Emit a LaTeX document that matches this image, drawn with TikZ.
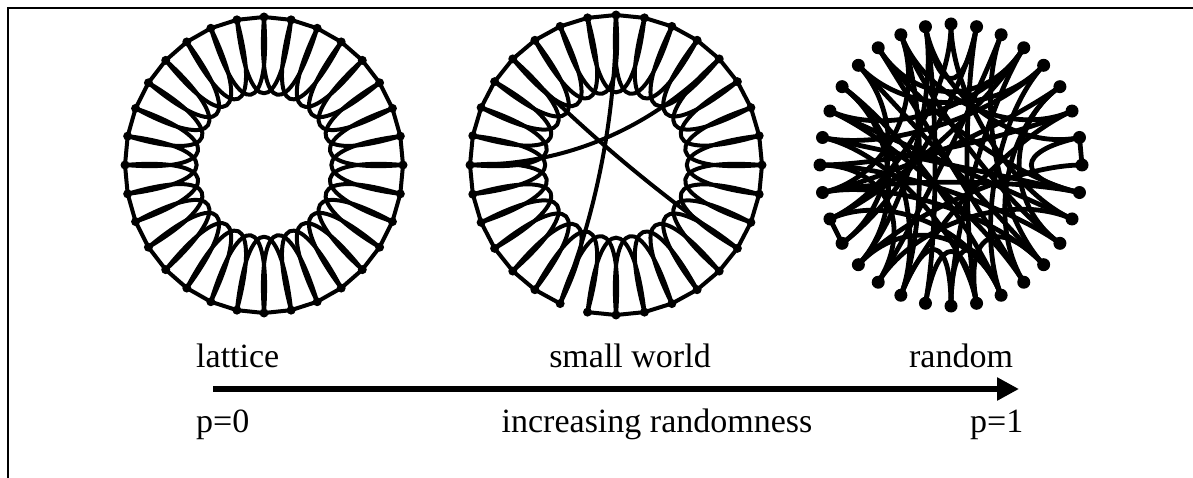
\documentclass[tikz,border=0pt]{standalone}
\usepackage{fontspec}
\setmainfont{Liberation Serif}
\usetikzlibrary{arrows.meta}
\begin{document}
\begin{tikzpicture}[x=1pt,y=-1pt,
  dotL/.style={circle,fill=black,inner sep=0pt,minimum size=9pt},
  dotR/.style={circle,fill=black,inner sep=0pt,minimum size=13pt},
  edgeL/.style={line width=4pt,line cap=round,line join=round},
  edgeR/.style={line width=4.8pt,line cap=round,line join=round},
  lbl/.style={font=\fontsize{34}{40}\selectfont,inner sep=0pt},
  frameline/.style={line width=1.5pt}]
\useasboundingbox (0,0) rectangle (1193,478);
% frame
\coordinate (fA) at (8,478);
\coordinate (fB) at (8,8);
\coordinate (fC) at (1193,8);
\draw[frameline] (fA) -- (fB) -- (fC);
% ---------- lattice ----------
\foreach \k in {0,...,31}{
  \pgfmathsetmacro\a{11.25*\k}
  \node[dotL] (L\k) at ({264+139*cos(\a)},{165-148*sin(\a)}) {};
  \coordinate (LA\k) at ({264+0.34*139*cos(\a-9)},{165-0.34*148*sin(\a-9)});
  \coordinate (LB\k) at ({264+0.34*139*cos(\a+9)},{165-0.34*148*sin(\a+9)});
}
\foreach \k [evaluate=\k as \n using {int(mod(\k+1,32))},
             evaluate=\k as \m using {int(mod(\k+2,32))}] in {0,...,31}{
  \draw[edgeL] (L\k.center) -- (L\n.center);
  \draw[edgeL] (L\k.center) .. controls (LA\k) and (LB\m) .. (L\m.center);
}
% ---------- small world ----------
\foreach \k in {0,...,31}{
  \pgfmathsetmacro\a{11.25*\k}
  \node[dotL] (S\k) at ({616+146*cos(\a)},{165-150*sin(\a)}) {};
  \coordinate (SA\k) at ({616+0.34*146*cos(\a-9)},{165-0.34*150*sin(\a-9)});
  \coordinate (SB\k) at ({616+0.34*146*cos(\a+9)},{165-0.34*150*sin(\a+9)});
  \coordinate (SC\k) at ({616+0.34*146*cos(\a)},{165-0.34*150*sin(\a)});
}
\foreach \k [evaluate=\k as \n using {int(mod(\k+1,32))},
             evaluate=\k as \m using {int(mod(\k+2,32))}] in {0,...,31}{
  \ifnum\k=22\else
  \draw[edgeL] (S\k.center) -- (S\n.center);
  \fi
  \draw[edgeL] (S\k.center) .. controls (SA\k) and (SB\m) .. (S\m.center);
}
\foreach \i/\j in {16/4,12/29,8/22}{
  \draw[edgeL] (S\i.center) .. controls (SC\i) and (SC\j) .. (S\j.center);
}
% ---------- random ----------
\foreach \k in {0,...,31}{
  \pgfmathsetmacro\a{11.25*\k}
  \node[dotR] (R\k) at ({951+131*cos(\a)},{165-141*sin(\a)}) {};
  \coordinate (RC\k) at ({951+0.5*131*cos(\a)},{165-0.5*141*sin(\a)});
}
\foreach \i/\j in {0/1,18/19}{
  \draw[edgeR] (R\i.center) -- (R\j.center);
}
\foreach \i/\j in {1/31,0/20,1/9,2/16,2/22,2/10,3/17,3/27,4/12,4/15,4/26,
  5/18,5/24,5/11,6/21,6/28,7/9,7/19,7/25,8/18,8/30,9/23,10/22,10/29,11/27,
  11/31,12/28,13/26,13/20,14/27,14/30,15/31,15/25,16/29,16/21,17/28,17/31,
  20/26,21/30,22/24,23/25,24/26,5/14,9/20,10/17,13/22,25/28,18/26,12/19,3/29}{
  \draw[edgeR] (R\i.center) .. controls (RC\i) and (RC\j) .. (R\j.center);
}
% ---------- labels and arrow ----------
\node[lbl,anchor=base west] (tlat) at (196,367) {lattice};
\node[lbl,anchor=base] (tsw) at (630,367) {small world};
\node[lbl,anchor=base] (trand) at (961,367) {random};
\coordinate (aS) at (213,389);
\coordinate (aE) at (1019,389);
\draw[line width=6pt,-{Triangle[length=22pt,width=22pt]}] (aS) -- (aE);
\node[lbl,anchor=base west] (tp0) at (196,432) {p=0};
\node[lbl,anchor=base] (tinc) at (657,432) {increasing randomness};
\node[lbl,anchor=base west] (tp1) at (970,432) {p=1};
\end{tikzpicture}
\end{document}
